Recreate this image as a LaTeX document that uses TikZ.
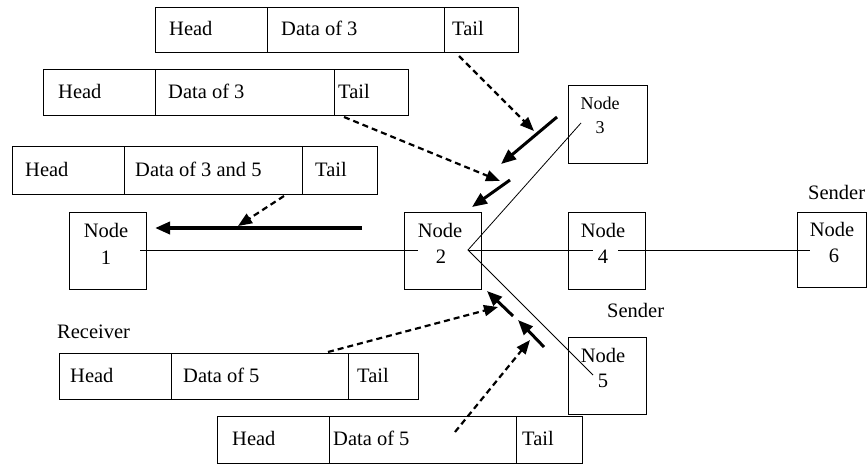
\documentclass[tikz,border=0pt]{standalone}
\usepackage{fontspec}
\setmainfont{Liberation Serif}
\usetikzlibrary{arrows.meta}
\begin{document}
\begin{tikzpicture}[x=1pt,y=-1pt,
  cell/.style={draw, line width=0.9pt, inner sep=0, anchor=north west},
  txt/.style={anchor=base west, inner sep=0, font=\fontsize{20.5}{24}\selectfont},
  ntxt/.style={anchor=base, inner sep=0, font=\fontsize{20.5}{24}\selectfont},
  thinline/.style={line width=0.8pt},
  heavyarrow/.style={line width=3pt, -{Triangle[length=15pt,width=12pt]}},
  dasharrow/.style={line width=2.2pt, dash pattern=on 6pt off 4pt, -{Triangle[length=14pt,width=11pt]}},
]
\useasboundingbox (0,0) rectangle (867,464);

% ---------- packet 1 ----------
\node[cell, minimum width=112pt, minimum height=45pt] (p1h) at (155,7) {};
\node[cell, minimum width=177pt, minimum height=45pt] (p1d) at (267,7) {};
\node[cell, minimum width=74pt,  minimum height=45pt] (p1t) at (444,7) {};
\node[txt] (p1ht) at (169,35.5) {Head};
\node[txt] (p1dt) at (281,35.5) {Data of 3};
\node[txt] (p1tt) at (452,35.5) {Tail};

% ---------- packet 2 ----------
\node[cell, minimum width=112pt, minimum height=46pt] (p2h) at (43,69) {};
\node[cell, minimum width=179pt, minimum height=46pt] (p2d) at (155,69) {};
\node[cell, minimum width=74pt,  minimum height=46pt] (p2t) at (334,69) {};
\node[txt] (p2ht) at (58,98) {Head};
\node[txt] (p2dt) at (168,98) {Data of 3};
\node[txt] (p2tt) at (338,98) {Tail};

% ---------- packet 3 ----------
\node[cell, minimum width=112pt, minimum height=48pt] (p3h) at (12,146) {};
\node[cell, minimum width=178pt, minimum height=48pt] (p3d) at (124,146) {};
\node[cell, minimum width=75pt,  minimum height=48pt] (p3t) at (302,146) {};
\node[txt] (p3ht) at (25,176) {Head};
\node[txt] (p3dt) at (135,176) {Data of 3 and 5};
\node[txt] (p3tt) at (315,176) {Tail};

% ---------- packet 4 ----------
\node[cell, minimum width=112pt, minimum height=46pt] (p4h) at (59,353) {};
\node[cell, minimum width=177pt, minimum height=46pt] (p4d) at (171,353) {};
\node[cell, minimum width=70pt,  minimum height=46pt] (p4t) at (348,353) {};
\node[txt] (p4ht) at (70,382) {Head};
\node[txt] (p4dt) at (183,382) {Data of 5};
\node[txt] (p4tt) at (357,382) {Tail};

% ---------- packet 5 ----------
\node[cell, minimum width=112pt, minimum height=47pt] (p5h) at (217,416) {};
\node[cell, minimum width=187pt, minimum height=47pt] (p5d) at (329,416) {};
\node[cell, minimum width=66pt,  minimum height=47pt] (p5t) at (516,416) {};
\node[txt] (p5ht) at (232,445) {Head};
\node[txt] (p5dt) at (333,445) {Data of 5};
\node[txt] (p5tt) at (522,445) {Tail};

% ---------- network nodes ----------
\node[cell, minimum width=77pt, minimum height=77pt] (n1) at (69,212) {};
\node[ntxt] (n1a) at (106,237) {Node};
\node[ntxt] (n1b) at (106,264) {1};

\node[cell, minimum width=77pt, minimum height=77pt] (n2) at (404,212) {};
\node[ntxt] (n2a) at (440,237) {Node};
\node[ntxt] (n2b) at (441,263) {2};

\node[cell, minimum width=79pt, minimum height=78pt] (n3) at (568,85) {};
\node[ntxt, font=\fontsize{18}{21}\selectfont] (n3a) at (600,109) {Node};
\node[ntxt, font=\fontsize{18}{21}\selectfont] (n3b) at (600,133) {3};

\node[cell, minimum width=77pt, minimum height=77pt] (n4) at (568,212) {};
\node[ntxt] (n4a) at (603,237) {Node};
\node[ntxt] (n4b) at (603,263) {4};

\node[cell, minimum width=78pt, minimum height=77pt] (n5) at (568,337) {};
\node[ntxt] (n5a) at (603,362) {Node};
\node[ntxt] (n5b) at (603,387) {5};

\node[cell, minimum width=69pt, minimum height=75pt] (n6) at (797,212) {};
\node[ntxt] (n6a) at (832,236) {Node};
\node[ntxt] (n6b) at (834,262) {6};

% ---------- labels ----------
\node[txt] (snd6) at (808,199) {Sender};
\node[txt] (snd5) at (607,317) {Sender};
\node[txt] (rcv)  at (57,338) {Receiver};

% ---------- links ----------
\coordinate (a1) at (140,250);
\coordinate (a2) at (418,250);
\coordinate (j2) at (468,250);
\coordinate (b4) at (593,250);
\coordinate (c4) at (618,250);
\coordinate (c6) at (810,250);
\coordinate (e3) at (581,123);
\coordinate (e5) at (593,375);
\draw[thinline] (a1) -- (a2);
\draw[thinline] (j2) -- (b4);
\draw[thinline] (c4) -- (c6);
\draw[thinline] (e3) -- (j2) -- (e5);

% ---------- heavy arrows ----------
\coordinate (h1s) at (362,228); \coordinate (h1e) at (155,228);
\coordinate (h2s) at (557,117); \coordinate (h2e) at (501,164);
\coordinate (h3s) at (510,180); \coordinate (h3e) at (472,207);
\coordinate (h4s) at (513,316); \coordinate (h4e) at (487,291);
\coordinate (h5s) at (544,347); \coordinate (h5e) at (518,320);
\draw[heavyarrow, line width=3.6pt] (h1s) -- (h1e);
\draw[heavyarrow] (h2s) -- (h2e);
\draw[heavyarrow] (h3s) -- (h3e);
\draw[heavyarrow] (h4s) -- (h4e);
\draw[heavyarrow] (h5s) -- (h5e);

% ---------- dashed arrows ----------
\coordinate (d1s) at (459,56);  \coordinate (d1e) at (534,131);
\coordinate (d2s) at (344,117); \coordinate (d2e) at (500,181);
\coordinate (d3s) at (284,196); \coordinate (d3e) at (238,226);
\coordinate (d4s) at (328,352); \coordinate (d4e) at (498,307);
\coordinate (d5s) at (455,432); \coordinate (d5e) at (530,340);
\draw[dasharrow] (d1s) -- (d1e);
\draw[dasharrow] (d2s) -- (d2e);
\draw[dasharrow] (d3s) -- (d3e);
\draw[dasharrow] (d4s) -- (d4e);
\draw[dasharrow] (d5s) -- (d5e);
\end{tikzpicture}
\end{document}
